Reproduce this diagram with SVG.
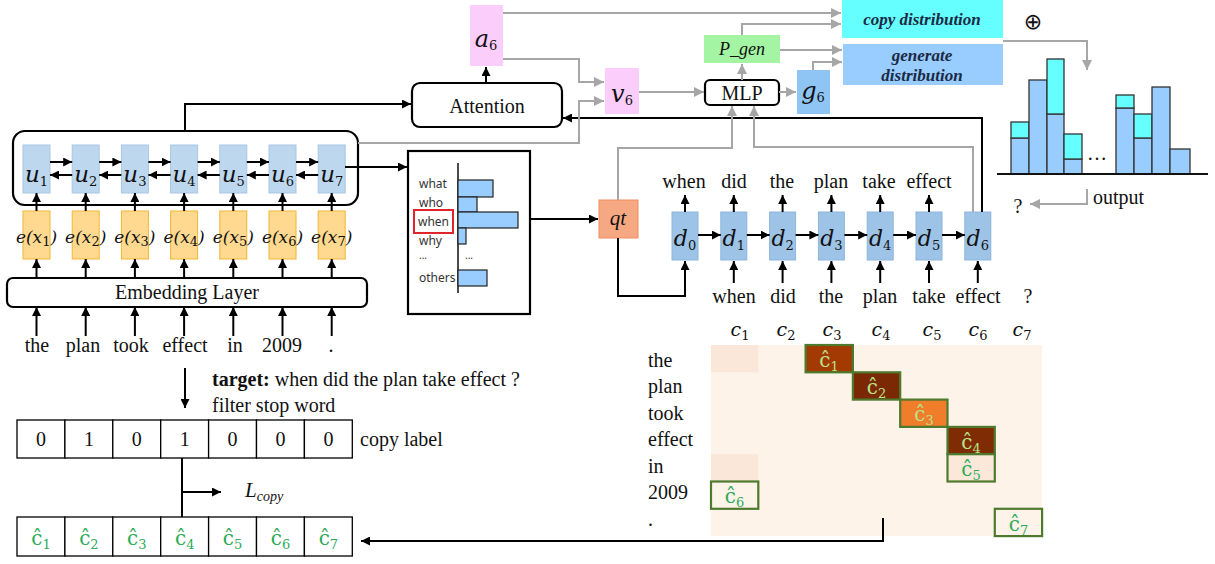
<svg xmlns="http://www.w3.org/2000/svg" width="1215" height="564" viewBox="0 0 1215 564">
<style>
.bk{stroke:#000;stroke-width:2;fill:none}
.gr{stroke:#A6A6A6;stroke-width:2;fill:none}
.ab{marker-end:url(#ab)}
.ag{marker-end:url(#ag)}
.ubox{fill:#BDD7EE;stroke:#A9C6E3;stroke-width:1}
.ebox{fill:#FFD98F;stroke:#F2B632;stroke-width:1}
.dbox{fill:#9DC3E6;stroke:#8DB6DE;stroke-width:1}
.pink{fill:#FBCDFB}
.rnd{fill:#fff;stroke:#000;stroke-width:2.2}
.w{font-family:"Liberation Serif",serif;font-size:20px;fill:#111}
.m{font-family:"DejaVu Serif",serif;font-style:italic;fill:#111}
.ms{font-family:"Liberation Serif",serif;font-style:italic;fill:#111}
.sub{font-style:normal;font-size:13px}
.q{font-family:"Noto Sans","Open Sans",sans-serif;font-size:12px;fill:#333}
.dist{font-family:"Liberation Serif",serif;font-weight:bold;font-style:italic;font-size:17px;fill:#1A2A44}
.hc{font-family:"DejaVu Serif",serif;font-size:20px;fill:#2EAA5A}
.hcl{font-family:"DejaVu Serif",serif;font-size:20px;fill:#B9E38A}
.hsub{font-size:13px}
.bar{fill:#99CCFF;stroke:#333;stroke-width:1.3}
.cy{fill:#66FFFF;stroke:#333;stroke-width:1.3}
.qb{fill:#99CCFF;stroke:#222;stroke-width:1.2}
.cell{fill:#fff;stroke:#000;stroke-width:1.3}
.hl{stroke:#4E7A2E;stroke-width:2.2}
</style>
<defs>
<marker id="ab" viewBox="0 0 10 10" refX="10" refY="5" markerWidth="9" markerHeight="9" orient="auto" markerUnits="userSpaceOnUse"><path d="M0,0 L10,5 L0,10 z" fill="#000"/></marker>
<marker id="ag" viewBox="0 0 10 10" refX="10" refY="5" markerWidth="10" markerHeight="10" orient="auto" markerUnits="userSpaceOnUse"><path d="M0,0 L10,5 L0,10 z" fill="#A6A6A6"/></marker>
</defs>
<rect width="1215" height="564" fill="#fff"/>

<g id="encoder">
<rect x="13" y="131" width="345" height="74" rx="12" fill="none" stroke="#000" stroke-width="2.2"/>
<rect class="ubox" x="23" y="145" width="27" height="48"/>
<rect class="ubox" x="72.2" y="145" width="27" height="48"/>
<rect class="ubox" x="121.4" y="145" width="27" height="48"/>
<rect class="ubox" x="170.6" y="145" width="27" height="48"/>
<rect class="ubox" x="219.8" y="145" width="27" height="48"/>
<rect class="ubox" x="269" y="145" width="27" height="48"/>
<rect class="ubox" x="318.2" y="145" width="27" height="48"/>
<g class="m" font-size="23" text-anchor="middle">
<text x="36.5" y="182">u<tspan class="sub" dy="4">1</tspan></text>
<text x="85.7" y="182">u<tspan class="sub" dy="4">2</tspan></text>
<text x="134.9" y="182">u<tspan class="sub" dy="4">3</tspan></text>
<text x="184.1" y="182">u<tspan class="sub" dy="4">4</tspan></text>
<text x="233.3" y="182">u<tspan class="sub" dy="4">5</tspan></text>
<text x="282.5" y="182">u<tspan class="sub" dy="4">6</tspan></text>
<text x="331.7" y="182">u<tspan class="sub" dy="4">7</tspan></text>
</g>
</g>

<g id="embeddings">
<rect class="ebox" x="23" y="211" width="27" height="48"/>
<rect class="ebox" x="72.2" y="211" width="27" height="48"/>
<rect class="ebox" x="121.4" y="211" width="27" height="48"/>
<rect class="ebox" x="170.6" y="211" width="27" height="48"/>
<rect class="ebox" x="219.8" y="211" width="27" height="48"/>
<rect class="ebox" x="269" y="211" width="27" height="48"/>
<rect class="ebox" x="318.2" y="211" width="27" height="48"/>
<g class="m" font-size="17" text-anchor="middle">
<text x="36.5" y="243">e(x<tspan class="sub" font-size="12" dy="3">1</tspan><tspan dy="-3">)</tspan></text>
<text x="85.7" y="243">e(x<tspan class="sub" font-size="12" dy="3">2</tspan><tspan dy="-3">)</tspan></text>
<text x="134.9" y="243">e(x<tspan class="sub" font-size="12" dy="3">3</tspan><tspan dy="-3">)</tspan></text>
<text x="184.1" y="243">e(x<tspan class="sub" font-size="12" dy="3">4</tspan><tspan dy="-3">)</tspan></text>
<text x="233.3" y="243">e(x<tspan class="sub" font-size="12" dy="3">5</tspan><tspan dy="-3">)</tspan></text>
<text x="282.5" y="243">e(x<tspan class="sub" font-size="12" dy="3">6</tspan><tspan dy="-3">)</tspan></text>
<text x="331.7" y="243">e(x<tspan class="sub" font-size="12" dy="3">7</tspan><tspan dy="-3">)</tspan></text>
</g>
</g>

<g id="embedding-layer">
<rect x="7" y="278" width="360" height="29" rx="6" class="rnd"/>
<text class="w" x="187" y="299" text-anchor="middle" font-size="21">Embedding Layer</text>
</g>

<g id="input-words" class="w" font-size="21" text-anchor="middle">
<text x="37" y="352">the</text>
<text x="83" y="352">plan</text>
<text x="131" y="352">took</text>
<text x="185" y="352">effect</text>
<text x="235" y="352">in</text>
<text x="282" y="352">2009</text>
<text x="331" y="352">.</text>
</g>

<g id="attention">
<rect x="412" y="83" width="150" height="44" rx="8" class="rnd"/>
<text class="w" x="487" y="113" text-anchor="middle" font-size="24">Attention</text>
</g>

<g id="a6">
<rect class="pink" x="470" y="5" width="33" height="61"/>
<text class="m" x="486" y="47" font-size="24" text-anchor="middle">a<tspan class="sub" font-size="15" dy="3">6</tspan></text>
</g>

<g id="v6">
<rect class="pink" x="605" y="68" width="34" height="46"/>
<text class="m" x="622" y="102" font-size="24" text-anchor="middle">v<tspan class="sub" font-size="15" dy="3">6</tspan></text>
</g>

<g id="mlp">
<rect x="705" y="80" width="74" height="25" rx="5" class="rnd"/>
<text class="w" x="742" y="100" text-anchor="middle" font-size="21">MLP</text>
</g>

<g id="pgen">
<rect x="704" y="35" width="76" height="28" fill="#A3F5A3"/>
<text class="ms" x="742" y="55" font-size="18" text-anchor="middle">P_gen</text>
</g>

<g id="g6">
<rect x="797" y="70" width="33" height="44" fill="#8EC5F5"/>
<text class="m" x="813" y="99" font-size="24" text-anchor="middle">g<tspan class="sub" font-size="15" dy="3">6</tspan></text>
</g>

<g id="copy-distribution">
<rect x="842" y="0" width="161" height="38" fill="#66FFFF"/>
<text class="dist" x="922" y="25" text-anchor="middle">copy distribution</text>
</g>

<g id="generate-distribution">
<rect x="843" y="44" width="160" height="41" fill="#99CCFF"/>
<text class="dist" x="922" y="61" text-anchor="middle">generate</text>
<text class="dist" x="922" y="81" text-anchor="middle">distribution</text>
</g>

<text id="oplus" x="1033" y="29" font-family="DejaVu Sans,sans-serif" font-size="22" text-anchor="middle" fill="#111">⊕</text>

<g id="histogram">
<rect class="bar" x="1011" y="138" width="18" height="36"/>
<rect class="cy" x="1011" y="122" width="18" height="16"/>
<rect class="bar" x="1029" y="80" width="18" height="94"/>
<rect class="bar" x="1047" y="114" width="17" height="60"/>
<rect class="cy" x="1047" y="59" width="17" height="55"/>
<rect class="bar" x="1064" y="159" width="18" height="15"/>
<rect class="cy" x="1064" y="134" width="18" height="25"/>
<rect class="bar" x="1116" y="108" width="18" height="66"/>
<rect class="cy" x="1116" y="95" width="18" height="13"/>
<rect class="bar" x="1134" y="138" width="18" height="36"/>
<rect class="cy" x="1134" y="114" width="18" height="24"/>
<rect class="bar" x="1152" y="87" width="18" height="87"/>
<rect class="bar" x="1170" y="149" width="20" height="25"/>
<line x1="997" y1="174" x2="1208" y2="174" stroke="#111" stroke-width="2"/>
<text class="w" x="1097" y="160" text-anchor="middle" font-size="18">…</text>
<text class="w" x="1093" y="204" font-size="20">output</text>
<text class="w" x="1018" y="213" text-anchor="middle" font-size="18">?</text>
</g>

<g id="question-type">
<rect x="408" y="151" width="122" height="163" fill="#fff" stroke="#000" stroke-width="2.2"/>
<line x1="458" y1="163" x2="458" y2="293" stroke="#111" stroke-width="1.5"/>
<rect class="qb" x="458" y="180" width="35" height="17"/>
<rect class="qb" x="458" y="197" width="19" height="15"/>
<rect class="qb" x="458" y="212" width="60" height="16"/>
<rect class="qb" x="458" y="228" width="8" height="16"/>
<rect class="qb" x="458" y="270" width="29" height="16"/>
<g class="q">
<text x="419" y="188">what</text>
<text x="419" y="207">who</text>
<text x="418" y="226">when</text>
<text x="419" y="245">why</text>
<text x="419" y="259" font-size="10">...</text>
<text x="465" y="259" font-size="10">...</text>
<text x="419" y="282">others</text>
</g>
<rect x="414" y="210" width="39" height="23" fill="none" stroke="#E0262A" stroke-width="2"/>
</g>

<g id="qt">
<rect x="599" y="200" width="39" height="38" fill="#F6A882" stroke="#EE8E5E" stroke-width="1"/>
<text class="ms" x="618" y="225" font-size="21" text-anchor="middle">qt</text>
</g>

<g id="decoder">
<rect class="dbox" x="672" y="212" width="26" height="48"/>
<rect class="dbox" x="720.8" y="212" width="26" height="48"/>
<rect class="dbox" x="769.6" y="212" width="26" height="48"/>
<rect class="dbox" x="818.4" y="212" width="26" height="48"/>
<rect class="dbox" x="867.2" y="212" width="26" height="48"/>
<rect class="dbox" x="916" y="212" width="26" height="48"/>
<rect class="dbox" x="964.8" y="212" width="26" height="48"/>
<g class="m" font-size="22" text-anchor="middle">
<text x="685" y="246">d<tspan class="sub" font-size="14" dy="4">0</tspan></text>
<text x="733.8" y="246">d<tspan class="sub" font-size="14" dy="4">1</tspan></text>
<text x="782.6" y="246">d<tspan class="sub" font-size="14" dy="4">2</tspan></text>
<text x="831.4" y="246">d<tspan class="sub" font-size="14" dy="4">3</tspan></text>
<text x="880.2" y="246">d<tspan class="sub" font-size="14" dy="4">4</tspan></text>
<text x="929" y="246">d<tspan class="sub" font-size="14" dy="4">5</tspan></text>
<text x="977.8" y="246">d<tspan class="sub" font-size="14" dy="4">6</tspan></text>
</g>
<g class="w" text-anchor="middle">
<text x="684" y="188">when</text>
<text x="734" y="188">did</text>
<text x="782" y="188">the</text>
<text x="831" y="188">plan</text>
<text x="879" y="188">take</text>
<text x="929" y="188">effect</text>
<text x="734" y="303">when</text>
<text x="783" y="303">did</text>
<text x="831" y="303">the</text>
<text x="880" y="303">plan</text>
<text x="929" y="303">take</text>
<text x="978" y="303">effect</text>
<text x="1028" y="303">?</text>
</g>
</g>

<g id="target-text" class="w">
<text x="212" y="386"><tspan font-weight="bold">target:</tspan> when did the plan take effect ?</text>
<text x="212" y="412">filter stop word</text>
</g>

<g id="copy-label">
<rect class="cell" x="17" y="420" width="47.9" height="38"/>
<rect class="cell" x="64.9" y="420" width="47.9" height="38"/>
<rect class="cell" x="112.8" y="420" width="47.9" height="38"/>
<rect class="cell" x="160.7" y="420" width="47.9" height="38"/>
<rect class="cell" x="208.6" y="420" width="47.9" height="38"/>
<rect class="cell" x="256.5" y="420" width="47.9" height="38"/>
<rect class="cell" x="304.4" y="420" width="47.9" height="38"/>
<g class="w" text-anchor="middle" font-size="19">
<text x="41" y="446">0</text>
<text x="88.9" y="446">1</text>
<text x="136.8" y="446">0</text>
<text x="184.7" y="446">1</text>
<text x="232.6" y="446">0</text>
<text x="280.5" y="446">0</text>
<text x="328.4" y="446">0</text>
</g>
<text class="w" x="360" y="446">copy label</text>
</g>

<text id="lcopy" class="ms" x="245" y="497" font-size="21">L<tspan font-size="14" dy="4">copy</tspan></text>

<g id="copy-pred">
<rect class="cell" x="17" y="517" width="47.9" height="39"/>
<rect class="cell" x="64.9" y="517" width="47.9" height="39"/>
<rect class="cell" x="112.8" y="517" width="47.9" height="39"/>
<rect class="cell" x="160.7" y="517" width="47.9" height="39"/>
<rect class="cell" x="208.6" y="517" width="47.9" height="39"/>
<rect class="cell" x="256.5" y="517" width="47.9" height="39"/>
<rect class="cell" x="304.4" y="517" width="47.9" height="39"/>
<g class="hc" text-anchor="middle">
<text x="41" y="545">ĉ<tspan class="hsub" dy="4">1</tspan></text>
<text x="88.9" y="545">ĉ<tspan class="hsub" dy="4">2</tspan></text>
<text x="136.8" y="545">ĉ<tspan class="hsub" dy="4">3</tspan></text>
<text x="184.7" y="545">ĉ<tspan class="hsub" dy="4">4</tspan></text>
<text x="232.6" y="545">ĉ<tspan class="hsub" dy="4">5</tspan></text>
<text x="280.5" y="545">ĉ<tspan class="hsub" dy="4">6</tspan></text>
<text x="328.4" y="545">ĉ<tspan class="hsub" dy="4">7</tspan></text>
</g>
</g>

<g id="copy-matrix">
<rect x="711" y="345" width="331" height="191" fill="#FDF3E8"/>
<rect x="711" y="345" width="47.3" height="27.3" fill="#FBE7D9"/>
<rect x="711" y="454.2" width="47.3" height="27.3" fill="#FBE7D9"/>
<rect class="hl" x="805.6" y="345" width="47.3" height="27.3" fill="#A33A03"/>
<rect class="hl" x="852.9" y="372.3" width="47.3" height="27.3" fill="#7A2904"/>
<rect class="hl" x="900.2" y="399.6" width="47.3" height="27.3" fill="#F07D2A"/>
<rect class="hl" x="947.5" y="426.9" width="47.3" height="27.3" fill="#7F2C04"/>
<rect class="hl" x="947.5" y="454.2" width="47.3" height="27.3" fill="#FCE8D9"/>
<rect class="hl" x="711" y="481.5" width="47.3" height="27.3" fill="#FDF3E8"/>
<rect class="hl" x="994.8" y="508.8" width="47.3" height="27.3" fill="#FDF3E8"/>
<g text-anchor="middle">
<text class="hcl" x="829" y="367">ĉ<tspan class="hsub" dy="4">1</tspan></text>
<text class="hcl" x="876.5" y="394">ĉ<tspan class="hsub" dy="4">2</tspan></text>
<text class="hcl" x="924" y="421">ĉ<tspan class="hsub" dy="4">3</tspan></text>
<text class="hcl" x="971" y="449">ĉ<tspan class="hsub" dy="4">4</tspan></text>
<text class="hc" x="971" y="476">ĉ<tspan class="hsub" dy="4">5</tspan></text>
<text class="hc" x="734.5" y="503">ĉ<tspan class="hsub" dy="4">6</tspan></text>
<text class="hc" x="1018.5" y="531">ĉ<tspan class="hsub" dy="4">7</tspan></text>
</g>
<g class="m" font-size="19" text-anchor="middle">
<text x="740" y="336">c<tspan class="sub" dy="4">1</tspan></text>
<text x="786" y="336">c<tspan class="sub" dy="4">2</tspan></text>
<text x="832" y="336">c<tspan class="sub" dy="4">3</tspan></text>
<text x="881" y="336">c<tspan class="sub" dy="4">4</tspan></text>
<text x="932" y="336">c<tspan class="sub" dy="4">5</tspan></text>
<text x="978" y="336">c<tspan class="sub" dy="4">6</tspan></text>
<text x="1022" y="336">c<tspan class="sub" dy="4">7</tspan></text>
</g>
<g class="w">
<text x="648" y="367">the</text>
<text x="648" y="393">plan</text>
<text x="648" y="420">took</text>
<text x="648" y="446">effect</text>
<text x="648" y="473">in</text>
<text x="648" y="499">2009</text>
<text x="648" y="526">.</text>
</g>
</g>

<g id="connectors">
<g class="bk ab">
<line x1="50" y1="162" x2="72.2" y2="162"/><line x1="72.2" y1="175" x2="50" y2="175"/>
<line x1="99.2" y1="162" x2="121.4" y2="162"/><line x1="121.4" y1="175" x2="99.2" y2="175"/>
<line x1="148.4" y1="162" x2="170.6" y2="162"/><line x1="170.6" y1="175" x2="148.4" y2="175"/>
<line x1="197.6" y1="162" x2="219.8" y2="162"/><line x1="219.8" y1="175" x2="197.6" y2="175"/>
<line x1="246.8" y1="162" x2="269" y2="162"/><line x1="269" y1="175" x2="246.8" y2="175"/>
<line x1="296" y1="162" x2="318.2" y2="162"/><line x1="318.2" y1="175" x2="296" y2="175"/>
<line x1="36.5" y1="211" x2="36.5" y2="193"/><line x1="85.7" y1="211" x2="85.7" y2="193"/><line x1="134.9" y1="211" x2="134.9" y2="193"/><line x1="184.1" y1="211" x2="184.1" y2="193"/><line x1="233.3" y1="211" x2="233.3" y2="193"/><line x1="282.5" y1="211" x2="282.5" y2="193"/><line x1="331.7" y1="211" x2="331.7" y2="193"/>
<line x1="36.5" y1="278" x2="36.5" y2="259"/><line x1="85.7" y1="278" x2="85.7" y2="259"/><line x1="134.9" y1="278" x2="134.9" y2="259"/><line x1="184.1" y1="278" x2="184.1" y2="259"/><line x1="233.3" y1="278" x2="233.3" y2="259"/><line x1="282.5" y1="278" x2="282.5" y2="259"/><line x1="331.7" y1="278" x2="331.7" y2="259"/>
<line x1="36.5" y1="336" x2="36.5" y2="307"/><line x1="85.7" y1="336" x2="85.7" y2="307"/><line x1="134.9" y1="336" x2="134.9" y2="307"/><line x1="184.1" y1="336" x2="184.1" y2="307"/><line x1="233.3" y1="336" x2="233.3" y2="307"/><line x1="282.5" y1="336" x2="282.5" y2="307"/><line x1="331.7" y1="336" x2="331.7" y2="307"/>
<path d="M185,131 V104 H411"/>
<path d="M345,167 H407"/>
<path d="M486,83 V67"/>
<path d="M982,212 V118 H563"/>
<path d="M530,219 H598"/>
<path d="M618,238 V296 H685 V261"/>
<line x1="698" y1="235" x2="720.8" y2="235"/><line x1="746.8" y1="235" x2="769.6" y2="235"/><line x1="795.6" y1="235" x2="818.4" y2="235"/><line x1="844.4" y1="235" x2="867.2" y2="235"/><line x1="893.2" y1="235" x2="916" y2="235"/><line x1="942" y1="235" x2="964.8" y2="235"/>
<line x1="685" y1="212" x2="685" y2="195"/><line x1="733.8" y1="212" x2="733.8" y2="195"/><line x1="782.6" y1="212" x2="782.6" y2="195"/><line x1="831.4" y1="212" x2="831.4" y2="195"/><line x1="880.2" y1="212" x2="880.2" y2="195"/><line x1="929" y1="212" x2="929" y2="195"/>
<line x1="733.8" y1="283" x2="733.8" y2="261"/><line x1="782.6" y1="283" x2="782.6" y2="261"/><line x1="831.4" y1="283" x2="831.4" y2="261"/><line x1="880.2" y1="283" x2="880.2" y2="261"/><line x1="929" y1="283" x2="929" y2="261"/><line x1="977.8" y1="283" x2="977.8" y2="261"/>
<path d="M185,368 V408"/>
<path d="M182,492 H221"/>
<path d="M883,518 V541 H361"/>
</g>
<path class="bk" d="M182,458 V517"/>
<g class="gr ag">
<path d="M358,143 H579 V101 H604"/>
<path d="M503,59 H579 V82 H604"/>
<path d="M503,13 H841"/>
<path d="M742,35 V24 H841"/>
<path d="M780,50 H842"/>
<path d="M813,70 V62 H842"/>
<path d="M742,80 V64"/>
<path d="M779,92 H796"/>
<path d="M639,92 H704"/>
<path d="M973,212 V147 H754 V106"/>
<path d="M618,200 V148 H732 V106"/>
<path d="M1003,41 H1087 V70"/>
<path d="M1087,189 V204 H1030"/>
</g>
</g>
</svg>
